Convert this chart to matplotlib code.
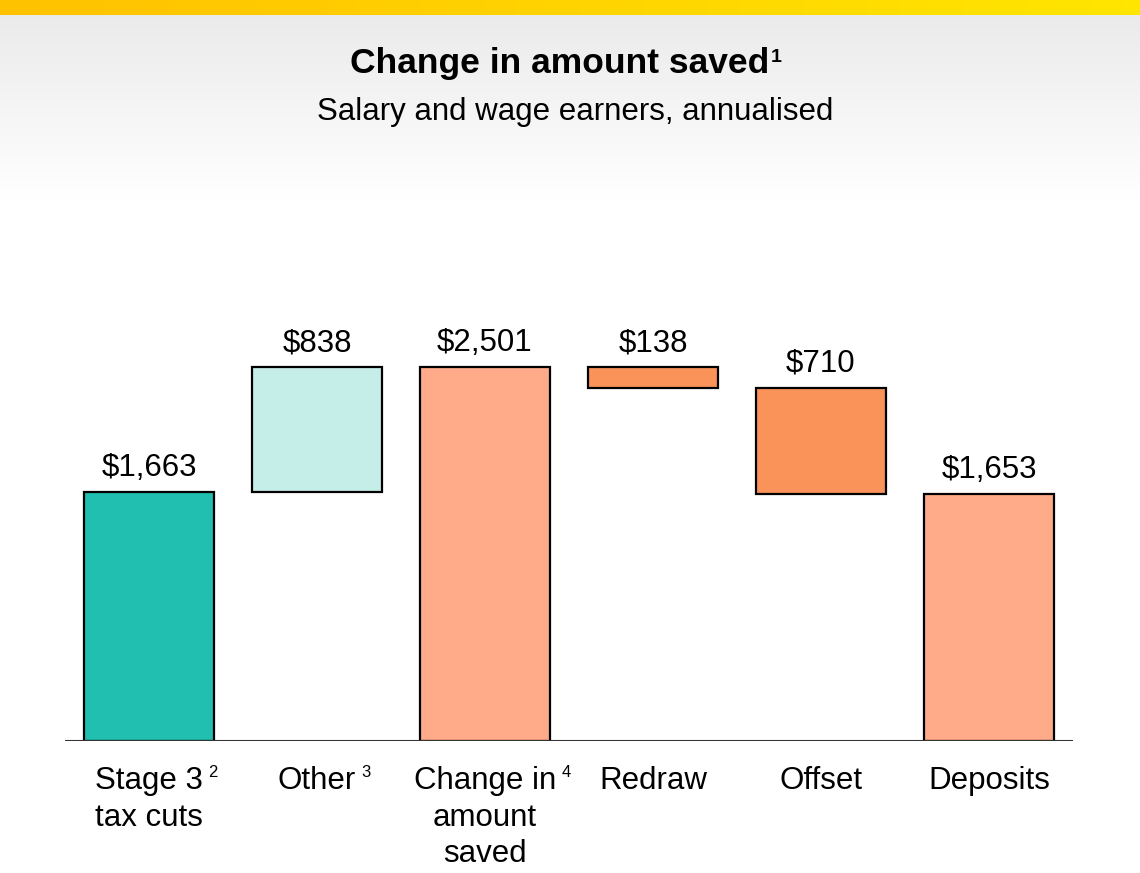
import matplotlib
matplotlib.use('Agg')
import numpy as np
import matplotlib.pyplot as plt

plt.rcParams['font.family'] = ['Liberation Sans', 'DejaVu Sans']

# data
categories = ['Stage 3\ntax cuts', 'Other', 'Change in\namount\nsaved', 'Redraw', 'Offset', 'Deposits']
footnotes = ['2', '3', '4', '', '', '']
values = [1663, 838, 2501, 138, 710, 1653]
kinds = ['total', 'up', 'total', 'down', 'down', 'total']
colors = ['#20BFB0', '#C6EEE9', '#FFAA88', '#F9935A', '#F9935A', '#FFAA88']

# waterfall bottoms
bottoms = []
running = 0
for v, k in zip(values, kinds):
    if k == 'total':
        bottoms.append(0)
        running = v
    elif k == 'up':
        bottoms.append(running)
        running += v
    else:
        running -= v
        bottoms.append(running)

W, H = 1140, 873
fig = plt.figure(figsize=(W / 100, H / 100), dpi=100)

# background: yellow strip on top, grey-to-white fade below
bg = fig.add_axes([0, 0, 1, 1], zorder=-10)
bg.axis('off')
bg.set_xlim(0, W)
bg.set_ylim(H, 0)
fade = np.linspace(0, 1, 200)[:, None]
grey = np.ones((200, 2, 3))
grey[:, :, :] = (0.92 + 0.08 * fade)[:, :, None]
bg.imshow(grey, extent=(0, W, 200, 15), aspect='auto', interpolation='bilinear')
bg.add_patch(plt.Rectangle((0, 200), W, H - 200, color='white', lw=0))
yel = np.zeros((1, 256, 3))
t = np.linspace(0, 1, 256)
yel[0, :, 0] = 1.0
yel[0, :, 1] = 0.76 + 0.14 * t
yel[0, :, 2] = 0.0
bg.imshow(yel, extent=(0, W, 15, 0), aspect='auto', interpolation='bilinear')

# main axes
ax_left, ax_right, ax_base, ax_top = 65, 1073, 741, 200
ax = fig.add_axes([ax_left / W, (H - ax_base) / H, (ax_right - ax_left) / W, (ax_base - ax_top) / H])
ax.set_facecolor('none')
px_per_unit = (ax_base - 367) / 2501
ax.set_ylim(0, (ax_base - ax_top) / px_per_unit)
ax.set_xlim(-0.5, 5.5)

x = np.arange(len(categories))
ax.bar(x, values, bottom=bottoms, width=0.77, color=colors, edgecolor='black', linewidth=1.6, zorder=3)

for spine in ax.spines.values():
    spine.set_visible(False)
ax.axhline(0, color='#333333', linewidth=1.5, zorder=4)
ax.set_xticks([])
ax.set_yticks([])

# value labels
for xi, v, b in zip(x, values, bottoms):
    ax.annotate(f'${v:,}', xy=(xi, b + v), xytext=(0, 24 * 0.72), textcoords='offset points',
                ha='center', va='center', fontsize=22.5)

# category labels, one line at a time
first_lines = []
for xi, cat in zip(x, categories):
    for j, line in enumerate(cat.split('\n')):
        tt = ax.annotate(line, xy=(xi, 0), xytext=(0, -(40 + 36.5 * j) * 0.72), textcoords='offset points',
                         ha='center', va='center', fontsize=22.5)
        if j == 0:
            first_lines.append(tt)

# titles
title = fig.text(560 / W, 1 - 64 / H, 'Change in amount saved', ha='center', va='center',
                 fontsize=25.5, fontweight='bold')
fig.text(575.5 / W, 1 - 112 / H, 'Salary and wage earners, annualised', ha='center', va='center',
         fontsize=22.5)

# footnote superscripts
fig.canvas.draw()
renderer = fig.canvas.get_renderer()
inv = fig.transFigure.inverted()
bb = title.get_window_extent(renderer)
fx, fy = inv.transform((bb.x1 + 1, bb.y1 - 2))
fig.text(fx, fy, '1', ha='left', va='top', fontsize=14, fontweight='bold')

for tt, note in zip(first_lines, footnotes):
    if not note:
        continue
    bb = tt.get_window_extent(renderer)
    fx, fy = inv.transform((bb.x1 + 5, bb.y1 + 1))
    fig.text(fx, fy, note, ha='left', va='top', fontsize=12)

fig.savefig('out.png', dpi=100)
